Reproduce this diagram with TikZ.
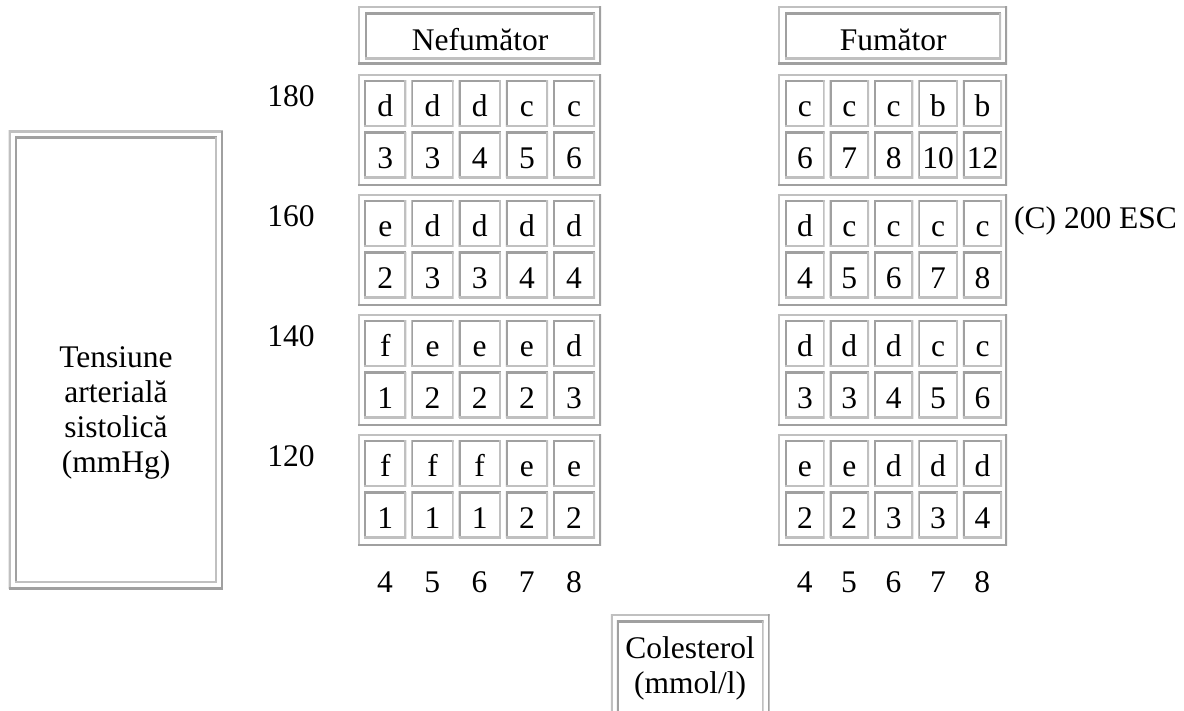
\documentclass[tikz,border=0pt]{standalone}
\usepackage{fontspec}
\setmainfont{Liberation Serif}
\usetikzlibrary{positioning}

\definecolor{bevlight}{HTML}{C0C0C0}
\definecolor{bevdark}{HTML}{A0A0A0}

\begin{document}
\begin{tikzpicture}[x=1pt, y=-1pt]
  \tikzset{
    every node/.style={font=\fontsize{31.5}{35}\selectfont, inner sep=0pt},
    bevel/.style 2 args={
      fill=white,
      path picture={
        \draw[line width=4pt, #1] (path picture bounding box.south west) |- (path picture bounding box.north east);
        \draw[line width=4pt, #2] (path picture bounding box.south west) -| (path picture bounding box.north east);
      },
    },
    outset/.style={bevel={bevlight}{bevdark}},
    inset/.style={bevel={bevdark}{bevlight}},
    frame/.style={outset, anchor=north west},
    block/.style={frame, minimum width=#1, minimum height=111.7pt},
    cell/.style={
      inset, anchor=north west,
      minimum width=#1, minimum height=46.5pt,
      text height=26pt, text depth=0pt,
    },
  }
  \useasboundingbox (0,0) rectangle (1184,711);
  \clip (0,0) rectangle (1184,711);

  % left label
  \node[frame, minimum width=214.4pt, minimum height=458.3pt] (bpframe) at (8.3,130.7) {};
  \node[inset, anchor=north west, minimum width=201.7pt, minimum height=446pt] (bpcell) at (15,136.7) {};
  \node[align=center, anchor=north] (bplabel) at (116,346) {Tensiune\\arterială\\sistolică\\(mmHg)};

  % headers
  \node[frame, minimum width=243pt, minimum height=58pt] (nshead) at (358,6) {};
  \node[cell=230pt, minimum height=46.3pt, text height=28.6pt] (nstitle) at (365,12.7) {Nefumător};
  \node[frame, minimum width=229pt, minimum height=58pt] (fshead) at (778,6) {};
  \node[cell=216pt, minimum height=46.3pt, text height=28.6pt] (fstitle) at (785,12.7) {Fumător};

  % row labels
  \foreach \bp [count=\k from 0] in {180,160,140,120}
    \node[anchor=base] (bp\bp) at (291,106.7+120*\k) {\bp};

  % non-smokers
  \foreach \bp/\ltr/\num [count=\k from 0] in {
      180/{d,d,d,c,c}/{3,3,4,5,6},
      160/{e,d,d,d,d}/{2,3,3,4,4},
      140/{f,e,e,e,d}/{1,2,2,2,3},
      120/{f,f,f,e,e}/{1,1,1,2,2}} {
    \node[block=243pt] (ns\bp) at (358,74+120*\k) {};
    \foreach \v [count=\i from 0] in \ltr
      \node[cell=42.2pt] (ns\bp l\i) at (364+47.2*\i,80.2+120*\k) {\v};
    \foreach \v [count=\i from 0] in \num
      \node[cell=42.2pt] (ns\bp n\i) at (364+47.2*\i,131.7+120*\k) {\v};
  }

  % smokers
  \foreach \bp/\ltr/\num [count=\k from 0] in {
      180/{c,c,c,b,b}/{6,7,8,10,12},
      160/{d,c,c,c,c}/{4,5,6,7,8},
      140/{d,d,d,c,c}/{3,3,4,5,6},
      120/{e,e,d,d,d}/{2,2,3,3,4}} {
    \node[block=229pt] (fs\bp) at (778,74+120*\k) {};
    \foreach \v [count=\i from 0] in \ltr
      \node[cell=39.4pt] (fs\bp l\i) at (785+44.4*\i,80.2+120*\k) {\v};
    \foreach \v [count=\i from 0] in \num
      \node[cell=39.4pt] (fs\bp n\i) at (785+44.4*\i,131.7+120*\k) {\v};
  }

  % cholesterol labels
  \foreach \c [count=\i from 0] in {4,...,8} {
    \node[anchor=base] (nsc\c) at (385.1+47.2*\i,592) {\c};
    \node[anchor=base] (fsc\c) at (804.7+44.4*\i,592) {\c};
  }

  \node[anchor=base west] (esc) at (1014,228.3) {(C) 200 ESC};

  % bottom label
  \node[frame, minimum width=158.6pt, minimum height=130pt] (cholframe) at (610.7,614) {};
  \node[inset, anchor=north west, minimum width=146.6pt, minimum height=117pt] (cholcell) at (616.7,620.7) {};
  \node[align=center, anchor=north] (chollabel) at (690,636) {Colesterol\\(mmol/l)};
\end{tikzpicture}
\end{document}
